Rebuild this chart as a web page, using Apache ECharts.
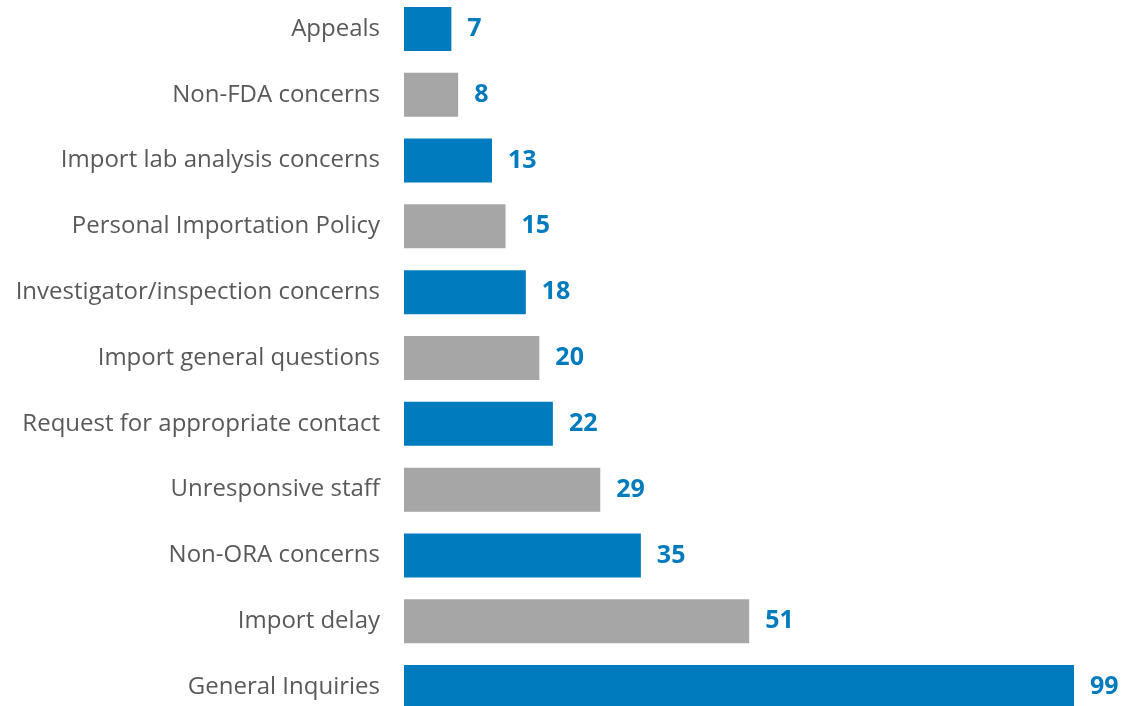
<!DOCTYPE html>
<html><head><meta charset="utf-8">
<script src="https://cdn.jsdelivr.net/npm/echarts@6/dist/echarts.min.js"></script>
<style>html,body{margin:0;padding:0;background:#fff}#c{width:1125px;height:706px}</style>
</head><body><div id="c"></div>
<script>
const categories = ["Appeals","Non-FDA concerns","Import lab analysis concerns","Personal Importation Policy","Investigator/inspection concerns","Import general questions","Request for appropriate contact","Unresponsive staff","Non-ORA concerns","Import delay","General Inquiries"];
const values = [7,8,13,15,18,20,22,29,35,51,99];

const chart = echarts.init(document.getElementById('c'));
chart.setOption({
  animation:false,
  grid:{left:404,right:51,top:-4,height:724,outerBoundsMode:'none',containLabel:false},
  xAxis:{type:'value',min:0,max:99,show:false},
  yAxis:{type:'category',data:categories,inverse:true,
    axisLine:{show:false},axisTick:{show:false},splitLine:{show:false},
    axisLabel:{margin:24,color:'#595959',fontSize:24,fontFamily:'Open Sans'}},
  series:[{type:'bar',data:values,barWidth:44,
    itemStyle:{color:p=>p.dataIndex%2===0?'#007BBD':'#A6A6A6'},
    label:{show:true,position:'right',distance:16,color:'#007BBD',fontSize:25,fontWeight:'bold',fontFamily:'Open Sans'}}]
});
</script></body></html>
